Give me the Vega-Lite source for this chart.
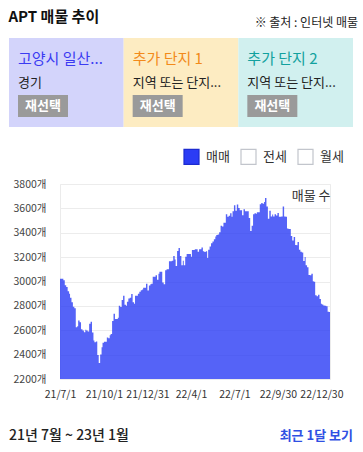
{
  "$schema": "https://vega.github.io/schema/vega-lite/v6.json",
  "padding": {"left": 8, "top": 10, "right": 0, "bottom": 0},
  "title": {"text": "APT 매물 추이", "anchor": "start", "fontSize": 15, "fontWeight": "bold", "color": "#111111", "offset": -8, "font": "Noto Sans CJK KR"},
  "config": {"font": "Noto Sans CJK KR", "view": {"stroke": null}},
  "resolve": {"scale": {"color": "independent"}, "legend": {"color": "independent"}},
  "spacing": 20,
  "vconcat": [
    {
      "width": 293,
      "height": 89,
      "title": {"text": "※ 출처 : 인터넷 매물", "anchor": "end", "fontSize": 12, "fontWeight": "normal", "color": "#222222", "offset": 8, "dx": 5},
      "data": {"values": [
        {"slot": "A", "name": "고양시 일산...", "region": "경기", "btn": "재선택"},
        {"slot": "B", "name": "추가 단지 1", "region": "지역 또는 단지...", "btn": "재선택"},
        {"slot": "C", "name": "추가 단지 2", "region": "지역 또는 단지...", "btn": "재선택"}
      ]},
      "encoding": {
        "x": {"field": "slot", "type": "nominal", "scale": {"type": "band", "range": [-51, 293], "paddingInner": 0, "paddingOuter": 0}, "axis": null}
      },
      "layer": [
        {
          "mark": {"type": "rect"},
          "encoding": {
            "fill": {"field": "slot", "type": "nominal", "scale": {"range": ["#d3d4fb", "#fdecc2", "#d1f0ef"]}, "legend": null}
          }
        },
        {
          "transform": [{"filter": "datum.slot === 'A'"}],
          "mark": {"type": "text", "align": "left", "baseline": "middle", "fontSize": 15, "xOffset": 9, "color": "#3b3bf2"},
          "encoding": {
            "x": {"field": "slot", "type": "nominal", "bandPosition": 0},
            "y": {"datum": "name", "type": "nominal", "scale": {"type": "point", "domain": ["name", "region", "button"], "padding": 0.9}, "axis": null},
            "text": {"field": "name"}
          }
        },
        {
          "transform": [{"filter": "datum.slot === 'B'"}],
          "mark": {"type": "text", "align": "left", "baseline": "middle", "fontSize": 15, "xOffset": 9, "color": "#f28a1a"},
          "encoding": {
            "x": {"field": "slot", "type": "nominal", "bandPosition": 0},
            "y": {"datum": "name", "type": "nominal", "axis": null},
            "text": {"field": "name"}
          }
        },
        {
          "transform": [{"filter": "datum.slot === 'C'"}],
          "mark": {"type": "text", "align": "left", "baseline": "middle", "fontSize": 15, "xOffset": 9, "color": "#12a19e"},
          "encoding": {
            "x": {"field": "slot", "type": "nominal", "bandPosition": 0},
            "y": {"datum": "name", "type": "nominal", "axis": null},
            "text": {"field": "name"}
          }
        },
        {
          "mark": {"type": "text", "align": "left", "baseline": "middle", "fontSize": 13, "color": "#222222", "xOffset": 9},
          "encoding": {
            "x": {"field": "slot", "type": "nominal", "bandPosition": 0},
            "y": {"datum": "region", "type": "nominal", "axis": null},
            "text": {"field": "region"}
          }
        },
        {
          "mark": {"type": "point", "shape": "M-1,-0.44H1V0.44H-1Z", "size": 2500, "filled": true, "opacity": 1, "color": "#9a9a9a", "xOffset": 34},
          "encoding": {
            "x": {"field": "slot", "type": "nominal", "bandPosition": 0},
            "y": {"datum": "button", "type": "nominal", "axis": null}
          }
        },
        {
          "mark": {"type": "text", "align": "center", "baseline": "middle", "fontSize": 13, "fontWeight": "bold", "color": "#ffffff", "xOffset": 34},
          "encoding": {
            "x": {"field": "slot", "type": "nominal", "bandPosition": 0},
            "y": {"datum": "button", "type": "nominal", "axis": null},
            "text": {"field": "btn"}
          }
        }
      ]
    },
    {
      "width": 270,
      "height": 195,
      "view": {"stroke": "#ebebeb"},
      "data": {"values": [
        {"s": "매매", "day": 0, "v": 3022}, {"s": "매매", "day": 7, "v": 3011}, {"s": "매매", "day": 10, "v": 2970}, {"s": "매매", "day": 13, "v": 2954}, {"s": "매매", "day": 16, "v": 2920}, {"s": "매매", "day": 19, "v": 2899},
        {"s": "매매", "day": 21, "v": 2867}, {"s": "매매", "day": 24, "v": 2829}, {"s": "매매", "day": 27, "v": 2793}, {"s": "매매", "day": 30, "v": 2780}, {"s": "매매", "day": 33, "v": 2624}, {"s": "매매", "day": 36, "v": 2632},
        {"s": "매매", "day": 38, "v": 2679}, {"s": "매매", "day": 41, "v": 2665}, {"s": "매매", "day": 44, "v": 2608}, {"s": "매매", "day": 47, "v": 2597}, {"s": "매매", "day": 50, "v": 2584}, {"s": "매매", "day": 53, "v": 2605},
        {"s": "매매", "day": 55, "v": 2597}, {"s": "매매", "day": 58, "v": 2590}, {"s": "매매", "day": 61, "v": 2654}, {"s": "매매", "day": 64, "v": 2670}, {"s": "매매", "day": 67, "v": 2581}, {"s": "매매", "day": 70, "v": 2516},
        {"s": "매매", "day": 72, "v": 2502}, {"s": "매매", "day": 75, "v": 2508}, {"s": "매매", "day": 78, "v": 2396}, {"s": "매매", "day": 81, "v": 2331}, {"s": "매매", "day": 84, "v": 2401}, {"s": "매매", "day": 87, "v": 2461},
        {"s": "매매", "day": 89, "v": 2497}, {"s": "매매", "day": 92, "v": 2505}, {"s": "매매", "day": 95, "v": 2505}, {"s": "매매", "day": 98, "v": 2540}, {"s": "매매", "day": 101, "v": 2535}, {"s": "매매", "day": 104, "v": 2559},
        {"s": "매매", "day": 106, "v": 2570}, {"s": "매매", "day": 109, "v": 2676}, {"s": "매매", "day": 112, "v": 2736}, {"s": "매매", "day": 115, "v": 2692}, {"s": "매매", "day": 118, "v": 2692}, {"s": "매매", "day": 121, "v": 2703},
        {"s": "매매", "day": 123, "v": 2801}, {"s": "매매", "day": 126, "v": 2790}, {"s": "매매", "day": 129, "v": 2848}, {"s": "매매", "day": 132, "v": 2883}, {"s": "매매", "day": 135, "v": 2810}, {"s": "매매", "day": 138, "v": 2801},
        {"s": "매매", "day": 140, "v": 2834}, {"s": "매매", "day": 143, "v": 2861}, {"s": "매매", "day": 146, "v": 2867}, {"s": "매매", "day": 149, "v": 2897}, {"s": "매매", "day": 152, "v": 2829}, {"s": "매매", "day": 155, "v": 2818},
        {"s": "매매", "day": 157, "v": 2883}, {"s": "매매", "day": 160, "v": 2883}, {"s": "매매", "day": 163, "v": 2899}, {"s": "매매", "day": 166, "v": 2916}, {"s": "매매", "day": 169, "v": 2929}, {"s": "매매", "day": 172, "v": 2935},
        {"s": "매매", "day": 174, "v": 2948}, {"s": "매매", "day": 177, "v": 2948}, {"s": "매매", "day": 180, "v": 2981}, {"s": "매매", "day": 183, "v": 2927}, {"s": "매매", "day": 186, "v": 2967}, {"s": "매매", "day": 189, "v": 2978},
        {"s": "매매", "day": 191, "v": 2981}, {"s": "매매", "day": 194, "v": 3038}, {"s": "매매", "day": 197, "v": 3038}, {"s": "매매", "day": 200, "v": 3052}, {"s": "매매", "day": 203, "v": 3014}, {"s": "매매", "day": 206, "v": 3063},
        {"s": "매매", "day": 208, "v": 3079}, {"s": "매매", "day": 211, "v": 3079}, {"s": "매매", "day": 214, "v": 2992}, {"s": "매매", "day": 217, "v": 2978}, {"s": "매매", "day": 220, "v": 3093}, {"s": "매매", "day": 223, "v": 3101},
        {"s": "매매", "day": 225, "v": 3101}, {"s": "매매", "day": 228, "v": 3166}, {"s": "매매", "day": 231, "v": 3166}, {"s": "매매", "day": 234, "v": 3171}, {"s": "매매", "day": 237, "v": 3210}, {"s": "매매", "day": 240, "v": 3180},
        {"s": "매매", "day": 242, "v": 3128}, {"s": "매매", "day": 245, "v": 3250}, {"s": "매매", "day": 248, "v": 3275}, {"s": "매매", "day": 251, "v": 3210}, {"s": "매매", "day": 254, "v": 3133}, {"s": "매매", "day": 257, "v": 3171},
        {"s": "매매", "day": 259, "v": 3133}, {"s": "매매", "day": 262, "v": 3204}, {"s": "매매", "day": 265, "v": 3226}, {"s": "매매", "day": 268, "v": 3226}, {"s": "매매", "day": 271, "v": 3226}, {"s": "매매", "day": 274, "v": 3204},
        {"s": "매매", "day": 276, "v": 3259}, {"s": "매매", "day": 279, "v": 3259}, {"s": "매매", "day": 282, "v": 3264}, {"s": "매매", "day": 285, "v": 3264}, {"s": "매매", "day": 288, "v": 3245}, {"s": "매매", "day": 291, "v": 3264},
        {"s": "매매", "day": 293, "v": 3264}, {"s": "매매", "day": 296, "v": 3280}, {"s": "매매", "day": 299, "v": 3248}, {"s": "매매", "day": 302, "v": 3242}, {"s": "매매", "day": 305, "v": 3248}, {"s": "매매", "day": 308, "v": 3193},
        {"s": "매매", "day": 310, "v": 3261}, {"s": "매매", "day": 313, "v": 3288}, {"s": "매매", "day": 316, "v": 3313}, {"s": "매매", "day": 319, "v": 3329}, {"s": "매매", "day": 322, "v": 3346}, {"s": "매매", "day": 325, "v": 3370},
        {"s": "매매", "day": 327, "v": 3381}, {"s": "매매", "day": 330, "v": 3386}, {"s": "매매", "day": 333, "v": 3405}, {"s": "매매", "day": 336, "v": 3457}, {"s": "매매", "day": 339, "v": 3452}, {"s": "매매", "day": 342, "v": 3482},
        {"s": "매매", "day": 344, "v": 3482}, {"s": "매매", "day": 347, "v": 3552}, {"s": "매매", "day": 350, "v": 3531}, {"s": "매매", "day": 353, "v": 3539}, {"s": "매매", "day": 356, "v": 3561}, {"s": "매매", "day": 359, "v": 3531},
        {"s": "매매", "day": 361, "v": 3577}, {"s": "매매", "day": 364, "v": 3626}, {"s": "매매", "day": 367, "v": 3580}, {"s": "매매", "day": 370, "v": 3631}, {"s": "매매", "day": 373, "v": 3604}, {"s": "매매", "day": 376, "v": 3585},
        {"s": "매매", "day": 378, "v": 3585}, {"s": "매매", "day": 381, "v": 3544}, {"s": "매매", "day": 384, "v": 3593}, {"s": "매매", "day": 387, "v": 3577}, {"s": "매매", "day": 390, "v": 3577}, {"s": "매매", "day": 393, "v": 3577},
        {"s": "매매", "day": 395, "v": 3522}, {"s": "매매", "day": 398, "v": 3414}, {"s": "매매", "day": 401, "v": 3457}, {"s": "매매", "day": 404, "v": 3552}, {"s": "매매", "day": 407, "v": 3561}, {"s": "매매", "day": 410, "v": 3555},
        {"s": "매매", "day": 412, "v": 3569}, {"s": "매매", "day": 415, "v": 3569}, {"s": "매매", "day": 418, "v": 3634}, {"s": "매매", "day": 421, "v": 3645}, {"s": "매매", "day": 424, "v": 3637}, {"s": "매매", "day": 427, "v": 3653},
        {"s": "매매", "day": 429, "v": 3686}, {"s": "매매", "day": 432, "v": 3615}, {"s": "매매", "day": 435, "v": 3514}, {"s": "매매", "day": 438, "v": 3580}, {"s": "매매", "day": 441, "v": 3533}, {"s": "매매", "day": 444, "v": 3550},
        {"s": "매매", "day": 446, "v": 3533}, {"s": "매매", "day": 449, "v": 3552}, {"s": "매매", "day": 452, "v": 3541}, {"s": "매매", "day": 455, "v": 3563}, {"s": "매매", "day": 458, "v": 3531}, {"s": "매매", "day": 461, "v": 3531},
        {"s": "매매", "day": 463, "v": 3533}, {"s": "매매", "day": 466, "v": 3615}, {"s": "매매", "day": 469, "v": 3533}, {"s": "매매", "day": 472, "v": 3531}, {"s": "매매", "day": 475, "v": 3435}, {"s": "매매", "day": 478, "v": 3430},
        {"s": "매매", "day": 480, "v": 3430}, {"s": "매매", "day": 483, "v": 3373}, {"s": "매매", "day": 486, "v": 3337}, {"s": "매매", "day": 489, "v": 3365}, {"s": "매매", "day": 492, "v": 3299}, {"s": "매매", "day": 495, "v": 3297},
        {"s": "매매", "day": 497, "v": 3324}, {"s": "매매", "day": 500, "v": 3261}, {"s": "매매", "day": 503, "v": 3245}, {"s": "매매", "day": 506, "v": 3237}, {"s": "매매", "day": 509, "v": 3169}, {"s": "매매", "day": 512, "v": 3201},
        {"s": "매매", "day": 514, "v": 3133}, {"s": "매매", "day": 517, "v": 3117}, {"s": "매매", "day": 520, "v": 3054}, {"s": "매매", "day": 523, "v": 3052}, {"s": "매매", "day": 526, "v": 3063}, {"s": "매매", "day": 529, "v": 3003},
        {"s": "매매", "day": 531, "v": 2997}, {"s": "매매", "day": 534, "v": 2888}, {"s": "매매", "day": 537, "v": 2880}, {"s": "매매", "day": 540, "v": 2891}, {"s": "매매", "day": 543, "v": 2856}, {"s": "매매", "day": 546, "v": 2818},
        {"s": "매매", "day": 548, "v": 2812}, {"s": "매매", "day": 551, "v": 2804}, {"s": "매매", "day": 554, "v": 2801}, {"s": "매매", "day": 557, "v": 2796}, {"s": "매매", "day": 560, "v": 2752}, {"s": "매매", "day": 563, "v": 2750},
        {"s": "매매", "day": 565, "v": 2750}
      ]},
      "mark": {"type": "area", "interpolate": "step-after", "fillOpacity": 0.8, "strokeWidth": 0},
      "encoding": {
        "x": {
          "field": "day", "type": "quantitative",
          "scale": {"domain": [0, 565], "nice": false, "zero": false},
          "axis": {"values": [0, 92, 183, 274, 365, 456, 547], "labelExpr": "timeFormat(datetime(2021, 6, 1 + datum.value), '%y/%-m/%-d')", "grid": false, "ticks": false, "domain": false, "labelPadding": 10, "labelFontSize": 10.5, "labelColor": "#333333", "labelOverlap": false, "labelFlush": false, "title": null}
        },
        "y": {
          "field": "v", "type": "quantitative",
          "scale": {"domain": [2200, 3800], "zero": false, "nice": false},
          "axis": {"values": [2200, 2400, 2600, 2800, 3000, 3200, 3400, 3600, 3800], "labelExpr": "datum.value + '개'", "ticks": false, "domain": false, "labelPadding": 14, "labelFontSize": 10.5, "labelColor": "#444444", "gridColor": "#ececec", "minExtent": 51, "title": "매물 수", "titleAngle": 0, "titleX": 270, "titleY": 11, "titleAlign": "right", "titleBaseline": "middle", "titleFontSize": 13, "titleFontWeight": "normal", "titleColor": "#333333"}
        },
        "y2": {"datum": 2200},
        "color": {
          "field": "s", "type": "nominal",
          "scale": {"domain": ["매매", "전세", "월세"], "range": ["#2b3cf5", "#ffffff", "#ffffff"]},
          "legend": {
            "orient": "none", "legendX": 123, "legendY": -36, "direction": "horizontal", "title": null,
            "symbolType": "square", "symbolSize": 225, "symbolStrokeWidth": 1.2, "symbolOpacity": 1,
            "labelFontSize": 13, "labelColor": "#333333", "labelOffset": 6, "columnPadding": 8, "padding": 0,
            "encode": {"symbols": {"update": {"stroke": {"signal": "datum.label === '매매' ? '#1c2bd0' : '#c2c5cc'"}, "strokeWidth": {"value": 1.2}, "opacity": {"value": 1}}}}
          }
        }
      }
    },
    {
      "width": 293,
      "height": 32,
      "data": {"values": [
        {"pos": "start", "label": "21년 7월 ~ 23년 1월"},
        {"pos": "end", "label": "최근 1달 보기"}
      ]},
      "layer": [
        {
          "transform": [{"filter": "datum.pos === 'start'"}],
          "mark": {"type": "text", "align": "left", "baseline": "middle", "fontSize": 14, "fontWeight": 500, "color": "#222222"},
          "encoding": {
            "x": {"field": "pos", "type": "nominal", "bandPosition": 0, "scale": {"type": "band", "domain": ["start", "end"], "range": [-51, 293], "paddingInner": 0, "paddingOuter": 0}, "axis": null},
            "text": {"field": "label"}
          }
        },
        {
          "transform": [{"filter": "datum.pos === 'end'"}],
          "mark": {"type": "text", "align": "right", "baseline": "middle", "fontSize": 13, "fontWeight": "bold", "color": "#2f50e3"},
          "encoding": {
            "x": {"field": "pos", "type": "nominal", "bandPosition": 1, "axis": null},
            "text": {"field": "label"}
          }
        }
      ]
    }
  ]
}
